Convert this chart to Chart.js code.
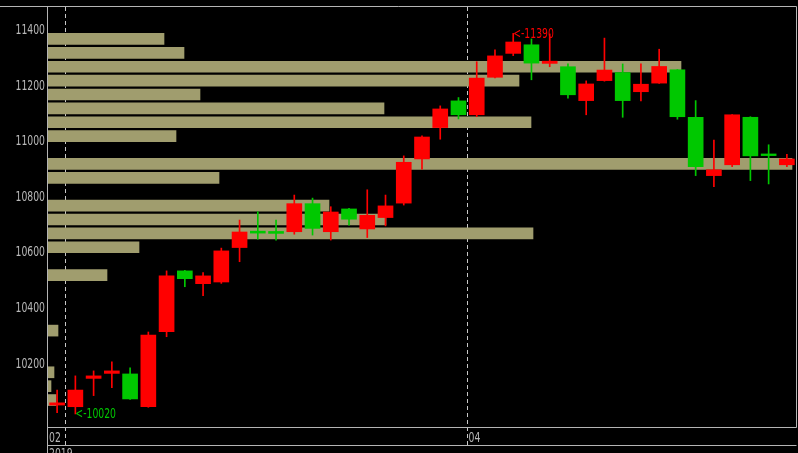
<!DOCTYPE html>
<html><head><meta charset="utf-8">
<script src="https://cdn.jsdelivr.net/npm/chart.js@4"></script>
<style>html,body{margin:0;padding:0;background:#000;overflow:hidden}canvas{display:block}</style>
</head><body>
<canvas id="c" width="798" height="453"></canvas>
<script>
// ---- data ----
const opens  = [10052,10046,10148,10166,10164,10046,10316,10535,10489,10495,10619,10678,10677,10676,10777,10676,10758,10686,10727,10779,10938,11051,11147,11097,11232,11318,11349,11282,11270,11148,11220,11249,11180,11211,11259,11088,10878,10917,11088,10956,10917];
const highs  = [10106,10157,10175,10208,10186,10315,10535,10537,10529,10617,10718,10748,10718,10808,10797,10766,10760,10827,10808,10949,11021,11129,11159,11288,11331,11390,11370,11388,11280,11219,11373,11280,11280,11333,11260,11148,11006,11098,11090,10989,10955];
const lows   = [10025,10020,10086,10115,10072,10044,10298,10478,10446,10490,10568,10649,10646,10667,10664,10646,10700,10655,10697,10772,10901,11009,11082,11090,11230,11310,11223,11270,11157,11097,11218,11088,11147,11210,11081,10878,10838,10910,10860,10848,10910];
const closes = [10060,10106,10157,10175,10074,10304,10517,10507,10517,10607,10675,10671,10670,10777,10688,10747,10721,10735,10769,10926,11017,11118,11097,11229,11309,11359,11283,11290,11169,11208,11258,11148,11207,11271,11090,10910,10899,11097,10949,10950,10938];

const yTicks = [10200,10400,10600,10800,11000,11200,11400];
const monthLabels = ['02','04'];
const monthTickPos = [-0.5, 22.5];
const monthStarts = [1, 23];
const yearLabel = '2019';

// volume profile: bucket lower price and relative volume
const profileLevels  = [11350,11300,11250,11200,11150,11100,11050,11000,10900,10850,10750,10700,10650,10600,10500,10300,10150,10100,10050];
const profileVolumes = [116,136,633,471,152,336,483,128,744,171,281,338,485,91,59,10,6,3,8];

// ---- styles ----
const UP = '#ff0000', DOWN = '#00c800', PROFILE = '#a09d6e';
const LINE = '#b4b4b4', TEXT = '#b8b8b8';
const FONT = "14px 'DejaVu Sans Condensed','DejaVu Sans',sans-serif";
const DIGIT_W = 5.9;
const BUCKET_FILL = 40;

const idx = opens.map((_, i) => i);
const colorOf = i => closes[i] >= opens[i] ? UP : DOWN;

const bodyData = idx.map(i => ({x: i, y: [opens[i], closes[i]]}));
const wickData = idx.map(i => ({x: i, y: [lows[i], highs[i]]}));
const profileData = profileLevels.map((lv, k) => ({y: lv + BUCKET_FILL / 2, x: profileVolumes[k]}));

function narrowText(ctx, text, x, y, align, baseline, color) {
  ctx.save();
  ctx.font = FONT;
  const sx = DIGIT_W / ctx.measureText('0').width;
  ctx.translate(x, y);
  ctx.scale(sx, 1);
  ctx.textAlign = align; ctx.textBaseline = baseline; ctx.fillStyle = color;
  ctx.fillText(text, 0, 0);
  ctx.restore();
}

const deco = {
  id: 'deco',
  beforeDatasetsDraw(chart) {
    const {ctx, chartArea: a, scales: {x}} = chart;
    ctx.save();
    ctx.strokeStyle = '#c8c8c8'; ctx.lineWidth = 1; ctx.setLineDash([4, 3]);
    monthStarts.forEach(m => {
      const px = Math.round(x.getPixelForValue(m - 0.5)) - 0.5;
      ctx.beginPath(); ctx.moveTo(px, a.top); ctx.lineTo(px, a.bottom + 18); ctx.stroke();
    });
    ctx.restore();
  },
  afterDatasetsDraw(chart) {
    const {ctx, scales: {x, y}} = chart;
    const hi = Math.max(...highs), lo = Math.min(...lows);
    const hiIdx = highs.indexOf(hi), loIdx = lows.indexOf(lo);
    narrowText(ctx, '<-' + hi, x.getPixelForValue(hiIdx), y.getPixelForValue(hi) + 1, 'left', 'middle', UP);
    narrowText(ctx, '<-' + lo, x.getPixelForValue(loIdx), y.getPixelForValue(lo), 'left', 'middle', DOWN);
  },
  afterDraw(chart) {
    const {ctx, chartArea: a, height, scales: {x, y}} = chart;
    ctx.save();
    ctx.strokeStyle = LINE; ctx.lineWidth = 1;
    const L = a.left - 0.5, T = a.top - 0.5, B = a.bottom + 0.5, R = a.right + 0.5;
    ctx.beginPath();
    ctx.moveTo(0, T); ctx.lineTo(R, T);
    ctx.moveTo(L, T); ctx.lineTo(L, height);
    ctx.moveTo(L, B); ctx.lineTo(R, B);
    ctx.moveTo(L, B + 18); ctx.lineTo(R, B + 18);
    ctx.moveTo(R, T); ctx.lineTo(R, B);
    ctx.stroke();
    ctx.restore();
    // y tick labels from the library's y scale
    y.ticks.forEach((t, i) => narrowText(ctx, String(t.value), a.left - 3, y.getPixelForTick(i), 'right', 'middle', TEXT));
    // x tick labels from the library's x scale
    x.ticks.forEach((t, i) => narrowText(ctx, monthLabels[i], x.getPixelForTick(i) + 1, B + 10.5, 'left', 'middle', TEXT));
    narrowText(ctx, yearLabel, a.left + 1, B + 19.5, 'left', 'top', TEXT);
  }
};

new Chart(document.getElementById('c'), {
  type: 'bar',
  data: {
    datasets: [
      {data: bodyData, backgroundColor: c => colorOf(c.dataIndex), barThickness: 15, grouped: false, xAxisID: 'x', yAxisID: 'y'},
      {data: wickData, backgroundColor: c => colorOf(c.dataIndex), barThickness: 1, grouped: false, xAxisID: 'x', yAxisID: 'y'},
      {data: profileData, indexAxis: 'y', backgroundColor: PROFILE, barThickness: 11, grouped: false, xAxisID: 'x2', yAxisID: 'y'}
    ]
  },
  options: {
    responsive: false, animation: false, devicePixelRatio: 1, events: [],
    layout: {padding: {top: 7, right: 2, left: 0, bottom: 0}},
    plugins: {legend: {display: false}, tooltip: {enabled: false}},
    scales: {
      x: {
        type: 'linear', min: -0.5, max: 40.5, offset: false, position: 'bottom',
        afterFit(s) { s.height = 26; },
        afterBuildTicks(s) { s.ticks = monthTickPos.map(v => ({value: v})); },
        grid: {display: false, drawTicks: false}, border: {display: false},
        ticks: {display: false}
      },
      x2: {type: 'linear', min: 0, max: 748, offset: false, display: false},
      y: {
        type: 'linear', min: 9973, max: 11485, offset: false, position: 'left', beginAtZero: false,
        afterFit(s) { s.width = 48; },
        afterBuildTicks(s) { s.ticks = yTicks.map(v => ({value: v})); },
        grid: {display: false, drawTicks: false}, border: {display: false},
        ticks: {display: false}
      }
    }
  },
  plugins: [deco]
});
</script>
</body></html>
